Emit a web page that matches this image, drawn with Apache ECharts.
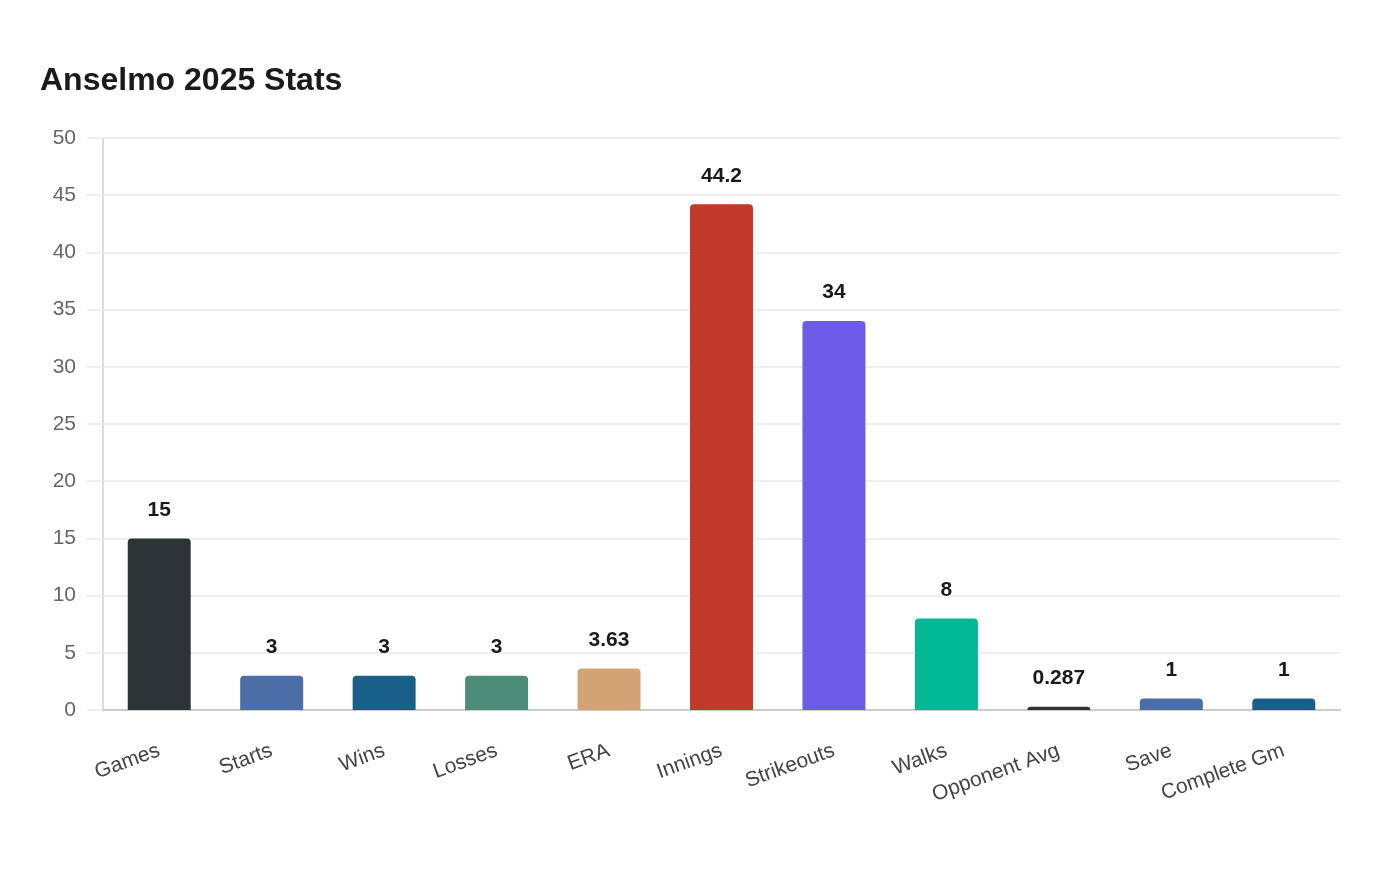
<!DOCTYPE html>
<html>
<head>
<meta charset="utf-8">
<script src="https://cdn.jsdelivr.net/npm/echarts@6/dist/echarts.min.js"></script>
<style>
  html, body { margin: 0; padding: 0; background: #fff; }
  #chart-container { width: 1400px; height: 880px; }
</style>
</head>
<body>
<div id="chart-container"></div>
<script>
const categories = ['Games', 'Starts', 'Wins', 'Losses', 'ERA', 'Innings', 'Strikeouts', 'Walks', 'Opponent Avg', 'Save', 'Complete Gm'];
const values = [15, 3, 3, 3, 3.63, 44.2, 34, 8, 0.287, 1, 1];
const barColors = ['#2d3436', '#4a6ea5', '#1a5f87', '#4e8c7a', '#d4a373', '#c0392b', '#6c5ce7', '#00b894', '#2d3436', '#4a6ea5', '#1a5f87'];
const yTicks = [0, 5, 10, 15, 20, 25, 30, 35, 40, 45, 50];

const chartDom = document.getElementById('chart-container');
const myChart = echarts.init(chartDom, null, { renderer: 'canvas' });

const data = values.map(function (v, i) {
    return { value: v, itemStyle: { color: barColors[i] } };
});

const option = {
    backgroundColor: '#ffffff',
    animation: false,
    textStyle: { fontFamily: 'Liberation Sans, Arial, sans-serif' },
    title: {
        text: 'Anselmo 2025 Stats',
        left: 35,
        top: 60,
        textStyle: { fontSize: 32, fontWeight: 'bold', color: '#1a1a1a' }
    },
    grid: { left: 103, right: 60, top: 138, bottom: 170, containLabel: false },
    xAxis: {
        type: 'category',
        data: categories,
        axisLine: { lineStyle: { color: '#cccccc', width: 2 } },
        axisTick: { show: false },
        axisLabel: {
            rotate: 20,
            interval: 0,
            fontSize: 21,
            color: '#444444',
            margin: 40
        }
    },
    yAxis: {
        type: 'value',
        min: yTicks[0],
        max: yTicks[yTicks.length - 1],
        interval: 5,
        axisLine: { show: true, lineStyle: { color: '#dddddd', width: 2 } },
        axisTick: { show: true, length: 16, lineStyle: { color: '#eeeeee', width: 2 } },
        axisLabel: { fontSize: 21, color: '#666666', margin: 27 },
        splitLine: { lineStyle: { color: '#eeeeee', width: 2 } }
    },
    series: [{
        type: 'bar',
        data: data,
        barWidth: '56%',
        itemStyle: { borderRadius: [4, 4, 0, 0] },
        label: {
            show: true,
            position: 'top',
            distance: 18,
            fontSize: 21,
            fontWeight: 'bold',
            color: '#1a1a1a'
        }
    }]
};
myChart.setOption(option);
</script>
</body>
</html>
